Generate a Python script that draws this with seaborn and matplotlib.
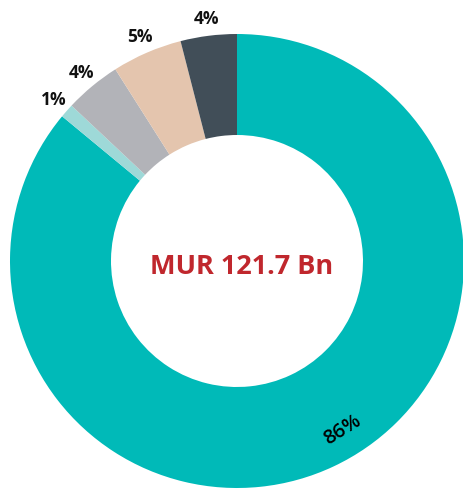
import numpy as np
import matplotlib.pyplot as plt
import seaborn as sns

# shares of the total, clockwise from the top
labels = ['86%', '1%', '4%', '5%', '4%']
shares = [86, 1, 4, 5, 4]
colors = ['#00bab8', '#9ed9d8', '#b2b3b8', '#e4c5ae', '#414e58']
total_text = 'MUR 121.7 Bn'

sns.set_theme(style='white')
plt.rcParams['font.family'] = ['Open Sans', 'DejaVu Sans']

fig = plt.figure(figsize=(4.63, 4.94), dpi=100)
ax = fig.add_axes([0, 0, 1, 1])
pal = sns.color_palette(colors)

R = 227
wedges, _ = ax.pie(shares, colors=pal, startangle=90, counterclock=False,
                   radius=R, center=(237, 233),
                   wedgeprops=dict(width=101, linewidth=0))

cx, cy = 237, 233
for w, lab in zip(wedges[1:], labels[1:]):
    mid = np.deg2rad((w.theta1 + w.theta2) / 2)
    ax.text(cx + 1.075 * R * np.cos(mid), cy + 1.075 * R * np.sin(mid), lab,
            ha='center', va='center', fontsize=12.5, fontweight='bold', color='#111111')

# big share label sits inside the ring, turned along it
ang = np.deg2rad(-58)
ax.text(cx + 0.88 * R * np.cos(ang), cy + 0.88 * R * np.sin(ang), labels[0],
        ha='center', va='center', fontsize=14.5, fontweight='semibold',
        rotation=32, color='#000000')

ax.text(cx + 5, cy - 6, total_text, ha='center', va='center', fontsize=19.5,
        fontweight='bold', color='#c0272d')

ax.set_xlim(0, 463)
ax.set_ylim(0, 494)
ax.set_aspect('equal')
ax.axis('off')
fig.savefig('out.png', dpi=100)
